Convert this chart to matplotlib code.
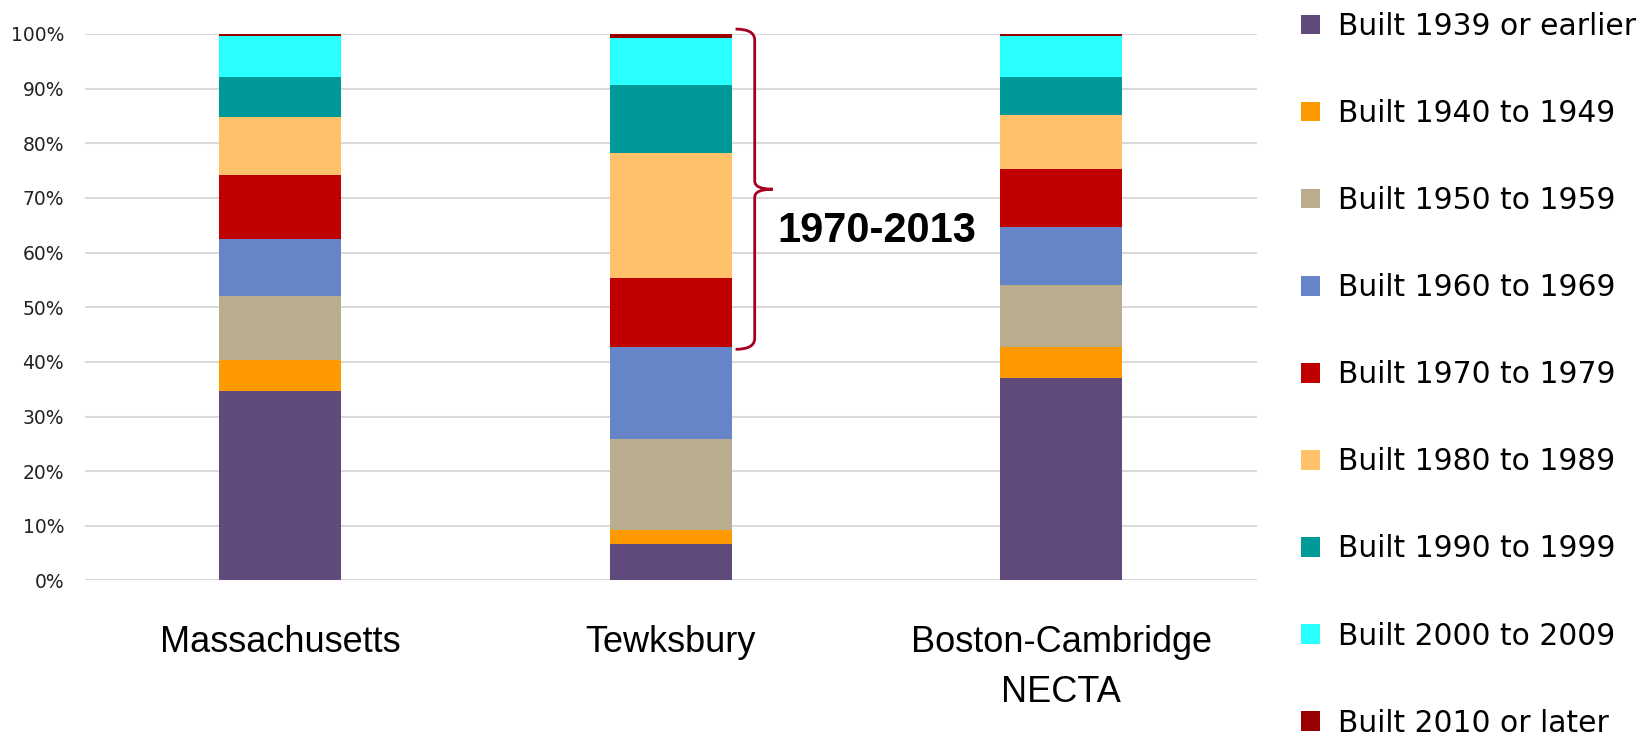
import numpy as np
import matplotlib.pyplot as plt
from matplotlib.path import Path
from matplotlib.patches import PathPatch

# share of housing units by year built (%)
regions = ['Massachusetts', 'Tewksbury', 'Boston-Cambridge\nNECTA']
periods = ['Built 1939 or earlier', 'Built 1940 to 1949', 'Built 1950 to 1959',
           'Built 1960 to 1969', 'Built 1970 to 1979', 'Built 1980 to 1989',
           'Built 1990 to 1999', 'Built 2000 to 2009', 'Built 2010 or later']
built_1939 = [34.6, 6.6, 37.1]
built_1940 = [5.8, 2.6, 5.6]
built_1950 = [11.7, 16.6, 11.4]
built_1960 = [10.3, 16.9, 10.6]
built_1970 = [11.8, 12.7, 10.6]
built_1980 = [10.7, 22.8, 9.9]
built_1990 = [7.3, 12.4, 6.9]
built_2000 = [7.4, 8.6, 7.5]
built_2010 = [0.4, 0.8, 0.4]
shares = [built_1939, built_1940, built_1950, built_1960, built_1970,
          built_1980, built_1990, built_2000, built_2010]
colors = ['#604A7B', '#FF9900', '#B9AD8D', '#6685C9', '#C00000',
          '#FFC26A', '#009999', '#2AFFFF', '#990000']

fig = plt.figure(figsize=(16.49, 7.39), dpi=100)
ax = fig.add_axes([0.0515, 0.2145, 0.7105, 0.7395])

x = np.arange(len(regions))
bottom = np.zeros(len(regions))
for label, vals, col in zip(periods, shares, colors):
    ax.bar(x, vals, 0.312, bottom=bottom, color=col, label=label, zorder=2)
    bottom += np.array(vals)

ax.set_xlim(-0.5, 2.5)
ax.set_ylim(0, 100)
ticks = np.arange(0, 101, 10)
ax.set_yticks(ticks)
ax.set_yticklabels([f'{t}%' for t in ticks], fontsize=13.5, color='#222222')
ax.set_xticks(x)
ax.set_xticklabels(regions, fontsize=26, family='Liberation Sans', linespacing=1.55)
ax.tick_params(axis='both', length=0)
ax.tick_params(axis='y', pad=15)
ax.tick_params(axis='x', pad=32)
ax.grid(axis='y', color='#D9D9D9', lw=1.5, zorder=0)
ax.set_axisbelow(True)
for s in ax.spines.values():
    s.set_visible(False)

# curly bracket next to Tewksbury covering 1970 onwards
lo = sum(v[1] for v in shares[:4]) - 0.4
hi = sum(v[1] for v in shares) + 0.9
mid = (lo + hi) / 2
x0, x1, x2 = 1.166, 1.215, 1.261
verts = [(x0, hi), (x1, hi), (x1, hi - 2),
         (x1, mid + 1.5), (x1, mid), (x2, mid),
         (x1, mid), (x1, mid - 1.5),
         (x1, lo + 2), (x1, lo), (x0, lo)]
codes = [Path.MOVETO, Path.CURVE3, Path.CURVE3,
         Path.LINETO, Path.CURVE3, Path.CURVE3,
         Path.CURVE3, Path.CURVE3,
         Path.LINETO, Path.CURVE3, Path.CURVE3]
ax.add_patch(PathPatch(Path(verts, codes), fill=False, ec='#A50021', lw=2,
                       clip_on=False, zorder=3))
ax.text(1.274, 64.0, '1970-2013', fontsize=30, fontweight='bold',
        family='Liberation Sans', va='center', ha='left')

fig.legend(loc='upper left', bbox_to_anchor=(0.789, 0.984), frameon=False,
           fontsize=21.4, handlelength=0.64, handleheight=0.64,
           handletextpad=0.6, labelspacing=1.955, borderpad=0, borderaxespad=0)

fig.savefig('out.png', dpi=100)
